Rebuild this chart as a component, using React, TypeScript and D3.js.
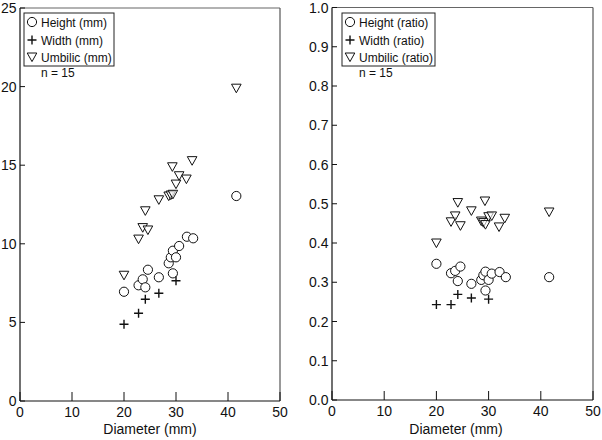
import React from "react";
import * as d3 from "d3";

const diameters = [20.0, 22.8, 23.6, 24.1, 24.6, 26.7, 28.6, 29.0, 29.4, 29.4, 30.0, 30.6, 32.1, 33.3, 41.6];
const heightMm = [6.95, 7.36, 7.74, 7.23, 8.35, 7.87, 8.76, 9.14, 9.56, 8.12, 9.14, 9.86, 10.45, 10.35, 13.04];
const heightRatio = [0.347, 0.323, 0.329, 0.303, 0.340, 0.296, 0.306, 0.318, 0.327, 0.279, 0.306, 0.322, 0.326, 0.313, 0.313];

const widthDiam = [20.0, 22.8, 24.1, 26.7, 30.0];
const widthMm = [4.88, 5.58, 6.47, 6.85, 7.65];
const widthRatio = [0.243, 0.243, 0.269, 0.260, 0.257];

const umbDiam = [20.0, 22.8, 23.6, 24.1, 24.6, 26.7, 28.6, 29.0, 29.3, 29.4, 30.0, 30.6, 32.0, 33.1, 41.6];
const umbMm = [8.0, 10.3, 11.03, 12.1, 10.88, 12.8, 13.04, 13.1, 14.9, 13.15, 13.8, 14.33, 14.12, 15.29, 19.9];
const umbRatio = [0.400, 0.454, 0.469, 0.503, 0.444, 0.482, 0.456, 0.452, 0.507, 0.447, 0.467, 0.469, 0.441, 0.463, 0.479];

const xTicks = [0, 10, 20, 30, 40, 50];
const yTicksMm = [0, 5, 10, 15, 20, 25];
const yTicksRatio = [0, 0.1, 0.2, 0.3, 0.4, 0.5, 0.6, 0.7, 0.8, 0.9, 1.0];

const legendMm = ["Height (mm)", "Width (mm)", "Umbilic (mm)"];
const legendRatio = ["Height (ratio)", "Width (ratio)", "Umbilic (ratio)"];
const nLabel = "n = 15";
const xTitle = "Diameter (mm)";

const FONT = "Liberation Sans, Arial, Helvetica, sans-serif";

function Circle({ cx, cy }: { cx: number; cy: number }) {
  return <circle cx={cx} cy={cy} r={4.6} fill="white" stroke="#111" strokeWidth={1} />;
}
function Cross({ cx, cy }: { cx: number; cy: number }) {
  const s = 4.5;
  return (
    <path d={`M${cx - s},${cy}H${cx + s}M${cx},${cy - s}V${cy + s}`} stroke="#111" strokeWidth={1.4} fill="none" />
  );
}
function Tri({ cx, cy }: { cx: number; cy: number }) {
  const w = 4.8;
  return (
    <path
      d={`M${cx - w},${cy - 4}L${cx + w},${cy - 4}L${cx},${cy + 4.6}Z`}
      fill="white"
      fillOpacity={0.6}
      stroke="#111"
      strokeWidth={1}
    />
  );
}

type PanelProps = {
  x0: number; x1: number; y0: number; y1: number;
  yMax: number; yTicks: number[]; fmt: (v: number) => string;
  h: number[]; w: number[]; u: number[];
  legend: string[]; legendBox: [number, number, number, number];
  titleX: number;
};

function Panel(p: PanelProps) {
  const x = d3.scaleLinear().domain([0, 50]).range([p.x0, p.x1]);
  const y = d3.scaleLinear().domain([0, p.yMax]).range([p.y0, p.y1]);
  const [lx0, ly0, lx1, ly1] = p.legendBox;
  const symX = lx0 + 8;
  const txtX = lx0 + 17;
  const rows = [ly0 + 9, ly0 + 27, ly0 + 44];
  return (
    <g fontFamily={FONT}>
      {/* frame */}
      <line x1={p.x0} y1={p.y1} x2={p.x1} y2={p.y1} stroke="#666" strokeWidth={1.2} />
      <line x1={p.x1} y1={p.y1} x2={p.x1} y2={p.y0} stroke="#555" strokeWidth={1.2} />
      <line x1={p.x0} y1={p.y0} x2={p.x1} y2={p.y0} stroke="#111" strokeWidth={1.2} />
      <line x1={p.x0} y1={p.y0} x2={p.x0} y2={p.y1} stroke="#111" strokeWidth={1.2} />
      {xTicks.map((t) => (
        <g key={"x" + t}>
          <line x1={x(t)} x2={x(t)} y1={p.y0} y2={p.y0 - 9} stroke="#111" strokeWidth={1} />
          <text x={x(t)} y={p.y0 + 16} fontSize={14} textAnchor="middle" fill="#111">{t}</text>
        </g>
      ))}
      {p.yTicks.map((t) => (
        <g key={"y" + t}>
          <line x1={p.x0} x2={p.x0 + 5} y1={y(t)} y2={y(t)} stroke="#111" strokeWidth={1} />
          <text x={p.x0 - 3.5} y={y(t) + 5} fontSize={14} textAnchor="end" fill="#111">{p.fmt(t)}</text>
        </g>
      ))}
      <text x={p.titleX} y={434} fontSize={14} textAnchor="middle" fill="#111">{xTitle}</text>
      {/* legend */}
      <rect x={lx0} y={ly0} width={lx1 - lx0} height={ly1 - ly0} fill="white" stroke="#222" strokeWidth={1} />
      <Circle cx={symX} cy={rows[0]} />
      <Cross cx={symX} cy={rows[1]} />
      <Tri cx={symX} cy={rows[2]} />
      {p.legend.map((s, i) => (
        <text key={s} x={txtX} y={rows[i] + 4.5} fontSize={12} fill="#111">{s}</text>
      ))}
      <text x={txtX} y={ly1 + 11} fontSize={12} fill="#111">{nLabel}</text>
      {/* data */}
      {diameters.map((d, i) => <Circle key={"h" + i} cx={x(d)} cy={y(p.h[i])} />)}
      {widthDiam.map((d, i) => <Cross key={"w" + i} cx={x(d)} cy={y(p.w[i])} />)}
      {umbDiam.map((d, i) => <Tri key={"u" + i} cx={x(d)} cy={y(p.u[i])} />)}
    </g>
  );
}

export default function App() {
  return (
    <svg width={602} height={440} style={{ position: "absolute", left: 0, top: 0, background: "white" }}>
      <rect width={602} height={440} fill="white" />
      <Panel
        x0={20} x1={280} y0={401} y1={8} yMax={25} yTicks={yTicksMm} fmt={(v) => String(v)}
        h={heightMm} w={widthMm} u={umbMm} legend={legendMm}
        legendBox={[24, 13, 114, 66]} titleX={150}
      />
      <Panel
        x0={332} x1={593} y0={400} y1={7.5} yMax={1} yTicks={yTicksRatio} fmt={d3.format(".1f")}
        h={heightRatio} w={widthRatio} u={umbRatio} legend={legendRatio}
        legendBox={[342, 13, 435, 66]} titleX={456}
      />
    </svg>
  );
}
